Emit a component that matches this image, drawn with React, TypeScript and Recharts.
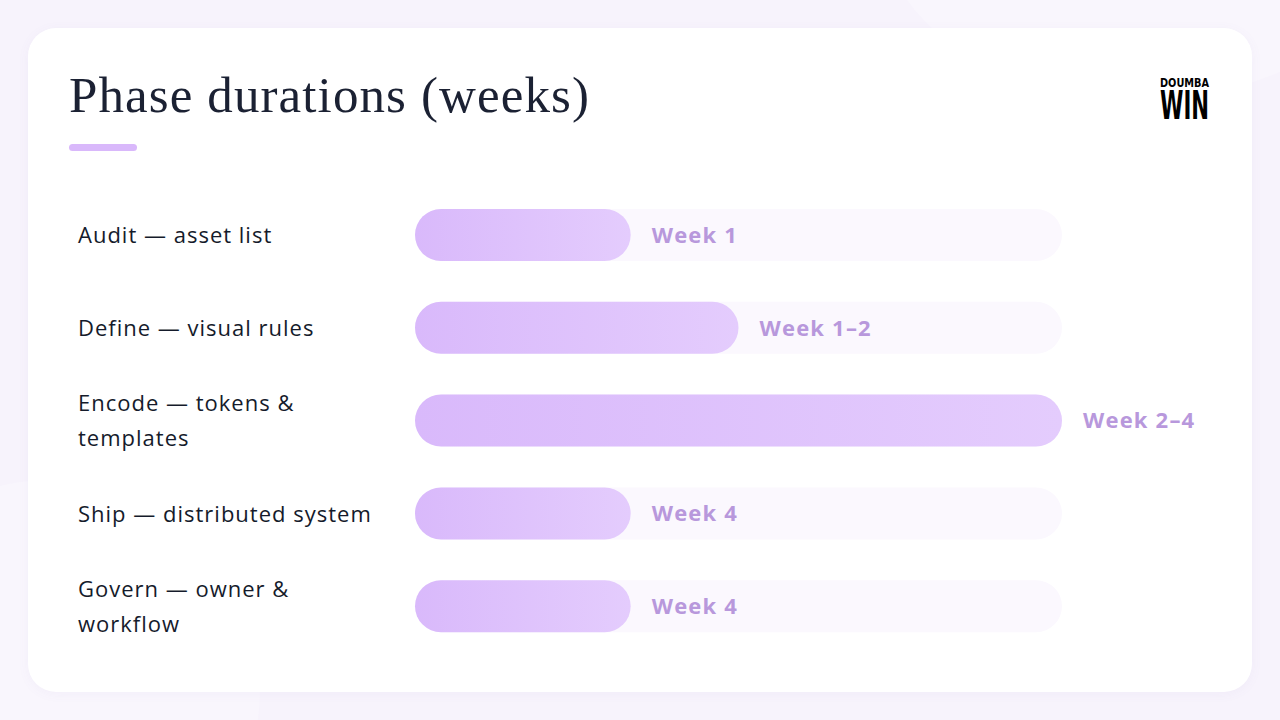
import React from "react";
import { BarChart, Bar, XAxis, YAxis, LabelList } from "recharts";

const phases = [
  "Audit — asset list",
  "Define — visual rules",
  "Encode — tokens &\ntemplates",
  "Ship — distributed system",
  "Govern — owner &\nworkflow",
];
const durations = [1, 1.5, 3, 1, 1];
const weekLabels = ["Week 1", "Week 1–2", "Week 2–4", "Week 4", "Week 4"];

const chartData = phases.map((phase, i) => ({
  phase,
  weeks: durations[i],
  label: weekLabels[i],
}));

const LABEL_FONT = "'Open Sans', 'Noto Sans', sans-serif";

function PhaseTick({ y, payload }: { y?: number; payload?: { value: string } }) {
  const lines = String(payload?.value ?? "").split("\n");
  const lineHeight = 35;
  const start = (y ?? 0) - ((lines.length - 1) * lineHeight) / 2;
  return (
    <text
      x={18}
      y={start}
      fill="#151b2b"
      fontSize={22}
      fontWeight={500}
      fontFamily={LABEL_FONT}
      letterSpacing={1}
      textAnchor="start"
    >
      {lines.map((line, i) => (
        <tspan key={i} x={18} y={start + i * lineHeight} dy="0.36em">
          {line}
        </tspan>
      ))}
    </text>
  );
}

function Logo() {
  const font = "'DejaVu Sans Condensed', 'Liberation Sans Narrow', sans-serif";
  return (
    <svg
      width={70}
      height={70}
      style={{ position: "absolute", left: 1150, top: 62, overflow: "visible" }}
    >
      <text
        x={10}
        y={25}
        fontSize={13}
        fontWeight={700}
        fontFamily={font}
        textLength={49}
        lengthAdjust="spacingAndGlyphs"
        fill="#000"
      >
        DOUMBA
      </text>
      <text
        x={10}
        y={57}
        fontSize={39}
        fontWeight={700}
        fontFamily={font}
        textLength={49}
        lengthAdjust="spacingAndGlyphs"
        fill="#000"
      >
        WIN
      </text>
    </svg>
  );
}

export default function App() {
  return (
    <div
      style={{
        position: "absolute",
        left: 0,
        top: 0,
        width: 1280,
        height: 720,
        overflow: "hidden",
        background: "#f7f3fc",
      }}
    >
      <div
        style={{
          position: "absolute",
          left: -160,
          top: 480,
          width: 420,
          height: 420,
          borderRadius: "50%",
          background: "#f9f6fd",
        }}
      />
      <div
        style={{
          position: "absolute",
          left: 880,
          top: -260,
          width: 520,
          height: 360,
          borderRadius: "50%",
          background: "#f9f6fd",
        }}
      />
      <div
        style={{
          position: "absolute",
          left: 28,
          top: 28,
          width: 1224,
          height: 664,
          borderRadius: 28,
          background: "#ffffff",
          boxShadow: "0 2px 12px rgba(120, 90, 170, 0.05)",
        }}
      />
      <div
        style={{
          position: "absolute",
          left: 69,
          top: 66,
          fontFamily: "'Liberation Serif', 'DejaVu Serif', serif",
          fontSize: 51,
          letterSpacing: 1.1,
          color: "#1b2133",
          whiteSpace: "nowrap",
        }}
      >
        Phase durations (weeks)
      </div>
      <div
        style={{
          position: "absolute",
          left: 69,
          top: 144,
          width: 68,
          height: 7,
          borderRadius: 4,
          background: "#d9b8fb",
        }}
      />
      <Logo />
      <div style={{ position: "absolute", left: 60, top: 189 }}>
        <BarChart
          width={1180}
          height={464}
          data={chartData}
          layout="vertical"
          margin={{ top: 0, right: 178, bottom: 0, left: 0 }}
        >
          <defs>
            <linearGradient id="phaseGradient" x1="0" y1="0" x2="1" y2="0">
              <stop offset="0%" stopColor="#d9b9fb" />
              <stop offset="100%" stopColor="#e4ccfd" />
            </linearGradient>
          </defs>
          <XAxis type="number" domain={[0, 3]} hide />
          <YAxis
            type="category"
            dataKey="phase"
            width={355}
            axisLine={false}
            tickLine={false}
            tick={<PhaseTick />}
            interval={0}
          />
          <Bar
            dataKey="weeks"
            barSize={52}
            radius={26}
            fill="url(#phaseGradient)"
            background={{ fill: "#fbf8fe", radius: 26 }}
            isAnimationActive={false}
          >
            <LabelList
              dataKey="label"
              position="right"
              offset={21}
              fill="#b898dc"
              fontSize={22}
              fontWeight={700}
              letterSpacing={1.2}
              fontFamily={LABEL_FONT}
            />
          </Bar>
        </BarChart>
      </div>
    </div>
  );
}
